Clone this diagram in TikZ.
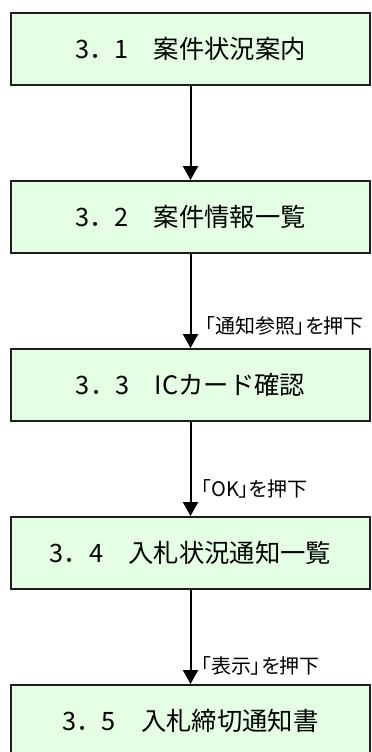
\documentclass[tikz,border=0pt]{standalone}
\usepackage{fontspec}
\setmainfont{Noto Sans CJK JP}
\newfontfamily\lblfont[RawFeature=+palt]{Noto Sans CJK JP}
\usetikzlibrary{arrows.meta}
\definecolor{boxfill}{RGB}{229,255,229}
\definecolor{boxline}{RGB}{30,30,30}
\tikzset{
  x=0.75pt, y=-0.75pt,
  stepbox/.style={draw=boxline, line width=1.4pt, fill=boxfill, minimum width=269.25pt, minimum height=54pt, inner sep=0pt, font=\fontsize{19pt}{21pt}\selectfont},
  flow/.style={line width=1.5pt, -{Triangle[width=11.25pt,length=10.5pt]}},
  lbl/.style={anchor=west, inner sep=0pt, font=\lblfont\fontsize{15pt}{17pt}\selectfont}
}
\begin{document}
\begin{tikzpicture}
\useasboundingbox (0,0) rectangle (371,752);
\node[stepbox] (b1) at (190.5,49) {3．1　案件状況案内};
\node[stepbox] (b2) at (190.5,217) {3．2　案件情報一覧};
\node[stepbox] (b3) at (190.5,385) {3．3　ICカード確認};
\node[stepbox] (b4) at (190.5,553) {3．4　入札状況通知一覧};
\node[stepbox] (b5) at (190.5,721) {3．5　入札締切通知書};
\draw[flow] (b1) -- (b2);
\draw[flow] (b2) -- (b3);
\draw[flow] (b3) -- (b4);
\draw[flow] (b4) -- (b5);
\node[lbl] (l1) at (205,326) {「通知参照」を押下};
\node[lbl] (l2) at (201,489) {「OK」を押下};
\node[lbl] (l3) at (201,666) {「表示」を押下};
\end{tikzpicture}
\end{document}
